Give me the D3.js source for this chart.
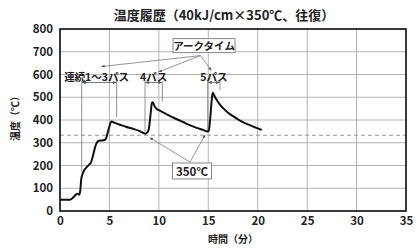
<!DOCTYPE html>
<meta charset="utf-8">
<script src="https://cdn.jsdelivr.net/npm/d3@7"></script>
<style>
  body { margin: 0; background: #fff; }
  text { font-family: "Noto Sans CJK JP", "Noto Sans", sans-serif; }
</style>
<div id="chart"></div>

<script>

    // temperature curve: time (min) and temperature (C)
    var times = [0, 0.6, 1.0, 1.3, 1.6, 1.8, 1.95, 2.05, 2.15, 2.35, 2.6, 2.9, 3.15, 3.35, 3.55, 3.75, 3.95, 4.3, 4.6, 4.8, 5.0, 5.2,
                 5.5, 6.0, 6.5, 7.0, 7.5, 8.0, 8.4, 8.65, 8.85, 9.0, 9.15, 9.3, 9.4, 9.55, 9.75, 10.0,
                 10.8, 11.5, 12.0, 12.5, 13.0, 13.5, 14.0, 14.5, 14.9, 15.05, 15.2, 15.35, 15.45, 15.6, 15.8,
                 16.1, 16.5, 17.0, 17.5, 18.0, 18.5, 19.0, 19.5, 20.0, 20.4];
    var temps = [50, 50, 50, 58, 72, 76, 72, 90, 140, 170, 188, 202, 215, 245, 280, 302, 309, 310, 315, 340, 372, 393,
                 388, 380, 373, 366, 360, 352, 344, 340, 346, 365, 420, 475, 478, 462, 450, 443,
                 425, 410, 400, 390, 380, 371, 363, 356, 350, 352, 410, 490, 520, 508, 492,
                 472, 452, 432, 417, 403, 391, 381, 372, 363, 356];

    var xTicks = [0, 5, 10, 15, 20, 25, 30, 35];
    var yTicks = [0, 100, 200, 300, 400, 500, 600, 700, 800];
    var refTemp = 333;   // dashed reference line

    // arc time markers per pass group
    var passLabels = ["連続1～3パス", "4パス", "5パス"];
    var passStart  = [2.2, 8.6, 14.94];
    var passEnd    = [5.73, 10.35, 16.18];
    var passLabelT = [3.7, 9.47, 15.56];
    var passLowL   = [170, 349, 349];   // where left guide line ends
    var passLowR   = [413, 480, 532];   // where right guide line ends

    var margin = {top: 29, right: 12, bottom: 39, left: 60},
        width = 418 - margin.left - margin.right,
        height = 250 - margin.top - margin.bottom;

    var svg = d3.select("#chart")
      .append("svg")
        .attr("width", 418)
        .attr("height", 250)
      .append("g")
        .attr("transform", "translate(" + margin.left + "," + margin.top + ")");

    var x = d3.scaleLinear().domain([0, 35]).range([0, width]);
    var y = d3.scaleLinear().domain([0, 800]).range([height, 0]);

    // grid
    svg.append("g")
        .selectAll("line.gx")
        .data(xTicks)
        .enter().append("line")
          .attr("x1", function(d) { return x(d); })
          .attr("x2", function(d) { return x(d); })
          .attr("y1", 0).attr("y2", height)
          .style("stroke", "#b4b4b4").style("stroke-width", 1);
    svg.append("g")
        .selectAll("line.gy")
        .data(yTicks)
        .enter().append("line")
          .attr("x1", 0).attr("x2", width)
          .attr("y1", function(d) { return y(d); })
          .attr("y2", function(d) { return y(d); })
          .style("stroke", "#b4b4b4").style("stroke-width", 1);

    // dashed line
    svg.append("line")
        .attr("x1", 0).attr("x2", width)
        .attr("y1", y(refTemp)).attr("y2", y(refTemp))
        .style("stroke", "#999").style("stroke-dasharray", "4,3");

    // axes labels (ticks as text)
    var xAxis = svg.append("g")
        .attr("transform", "translate(0," + height + ")")
        .call(d3.axisBottom(x).tickValues(xTicks).tickSize(0).tickPadding(6));
    var yAxis = svg.append("g")
        .call(d3.axisLeft(y).tickValues(yTicks).tickSize(0).tickPadding(7));
    [xAxis, yAxis].forEach(function(a) {
        a.select(".domain").remove();
        a.selectAll("text")
          .style("font-family", "'Noto Sans CJK JP', sans-serif")
          .style("font-size", "11.5px")
          .style("font-weight", "bold")
          .style("fill", "#222");
    });

    // frame
    svg.append("rect")
        .attr("x", 0).attr("y", 0)
        .attr("width", width).attr("height", height)
        .style("fill", "none").style("stroke", "#111").style("stroke-width", 1.6);

    // marker for arrows
    var defs = svg.append("defs");
    defs.append("marker")
        .attr("id", "ah")
        .attr("viewBox", "0 0 10 10")
        .attr("refX", 9).attr("refY", 5)
        .attr("markerWidth", 5).attr("markerHeight", 5)
        .attr("orient", "auto-start-reverse")
      .append("path")
        .attr("d", "M0,1L10,5L0,9z")
        .style("fill", "#555");

    // pass guides
    var arrowV = 565, labelV = 592;
    passLabels.forEach(function(lab, i) {
        svg.append("line")
            .attr("x1", x(passStart[i])).attr("x2", x(passStart[i]))
            .attr("y1", y(arrowV) - 1.5).attr("y2", y(passLowL[i]))
            .style("stroke", "#777").style("stroke-width", 0.8);
        svg.append("line")
            .attr("x1", x(passEnd[i])).attr("x2", x(passEnd[i]))
            .attr("y1", y(arrowV) - 1.5).attr("y2", y(passLowR[i]))
            .style("stroke", "#777").style("stroke-width", 0.8);
        svg.append("line")
            .attr("x1", x(passStart[i]) + 0.5).attr("x2", x(passEnd[i]) - 0.5)
            .attr("y1", y(arrowV)).attr("y2", y(arrowV))
            .attr("marker-start", "url(#ah)").attr("marker-end", "url(#ah)")
            .style("stroke", "#555").style("stroke-width", 0.8);
        svg.append("text")
            .attr("x", x(passLabelT[i]))
            .attr("y", y(labelV))
            .attr("text-anchor", "middle")
            .attr("dominant-baseline", "central")
            .style("font-size", "10.5px")
            .style("font-weight", "bold")
            .style("fill", "#222")
            .text(lab);
    });

    // temperature curve
    var pts = times.map(function(t, i) { return [t, temps[i]]; });
    svg.append("path")
        .datum(pts)
        .attr("d", d3.line()
            .x(function(d) { return x(d[0]); })
            .y(function(d) { return y(d[1]); })
            .curve(d3.curveMonotoneX))
        .style("fill", "none")
        .style("stroke", "#111")
        .style("stroke-width", 2);

    // leader lines for the boxed notes
    var arcFrom = [14.2, 683];
    var arcTo = [[4.2, 635], [10.0, 612], [15.3, 618]];
    arcTo.forEach(function(p) {
        svg.append("line")
            .attr("x1", x(arcFrom[0])).attr("y1", y(arcFrom[1]))
            .attr("x2", x(p[0])).attr("y2", y(p[1]))
            .attr("marker-end", "url(#ah)")
            .style("stroke", "#666").style("stroke-width", 0.7);
    });
    var tFrom = [13.15, 215];
    var tTo = [[9.1, 322], [14.67, 334]];
    tTo.forEach(function(p) {
        svg.append("line")
            .attr("x1", x(tFrom[0])).attr("y1", y(tFrom[1]))
            .attr("x2", x(p[0])).attr("y2", y(p[1]))
            .attr("marker-end", "url(#ah)")
            .style("stroke", "#666").style("stroke-width", 0.7);
    });

    // boxed notes
    function note(t, v, w, h, txt, fs) {
        svg.append("rect")
            .attr("x", x(t) - w / 2).attr("y", y(v) - h / 2)
            .attr("width", w).attr("height", h)
            .style("fill", "#fff").style("stroke", "#888").style("stroke-width", 1);
        svg.append("text")
            .attr("x", x(t)).attr("y", y(v))
            .attr("text-anchor", "middle")
            .attr("dominant-baseline", "central")
            .style("font-size", fs)
            .style("font-weight", "bold")
            .style("fill", "#222")
            .text(txt);
    }
    note(14.57, 727, 62, 14, "アークタイム", "10.5px");
    note(13.35, 176, 39, 16, "350℃", "11.5px");

    // titles
    svg.append("text")
        .attr("x", 164)
        .attr("y", -15)
        .attr("text-anchor", "middle")
        .attr("dominant-baseline", "central")
        .style("font-size", "13px")
        .style("font-weight", "bold")
        .style("fill", "#222")
        .text("温度履歴（40kJ/cm×350℃、往復）");

    svg.append("text")
        .attr("x", x(17.5))
        .attr("y", height + 27)
        .attr("text-anchor", "middle")
        .attr("dominant-baseline", "central")
        .style("font-size", "10px")
        .style("font-weight", "bold")
        .style("fill", "#222")
        .text("時間（分）");

    svg.append("text")
        .attr("transform", "translate(" + (14 - margin.left) + "," + (116 - margin.top) + ") rotate(-90)")
        .attr("text-anchor", "middle")
        .attr("dominant-baseline", "central")
        .style("font-size", "10px")
        .style("font-weight", "bold")
        .style("fill", "#222")
        .text("温度（℃）");

</script>
